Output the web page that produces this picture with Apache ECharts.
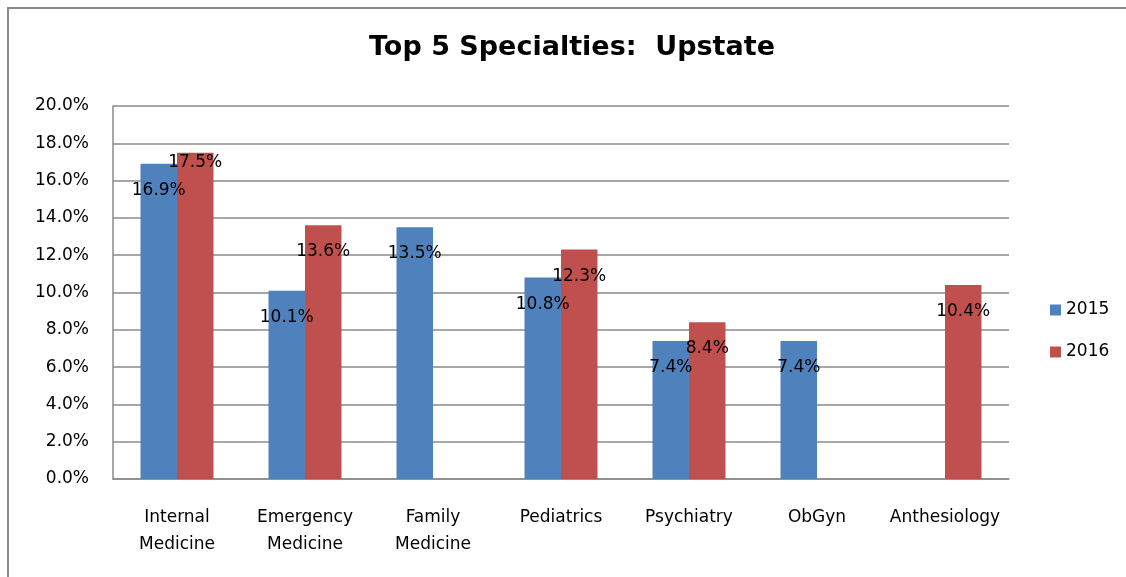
<!DOCTYPE html>
<html>
<head>
<meta charset="utf-8">
<script src="https://cdn.jsdelivr.net/npm/echarts@6/dist/echarts.min.js"></script>
<style>
  html, body { margin: 0; padding: 0; background: #fff; }
  #chart { width: 1126px; height: 577px; }
</style>
</head>
<body>
<div id="chart"></div>
<script>
const titleText = 'Top 5 Specialties:  Upstate';
const categories = ['Internal Medicine', 'Emergency Medicine', 'Family Medicine', 'Pediatrics', 'Psychiatry', 'ObGyn', 'Anthesiology'];
const seriesNames = ['2015', '2016'];
const values2015 = [16.9, 10.1, 13.5, 10.8, 7.4, 7.4, null];
const values2016 = [17.5, 13.6, null, 12.3, 8.4, null, 10.4];
const yMin = 0, yMax = 20, yStep = 2;

const FONT = 'DejaVu Sans';
const GRAY = '#8a8a8a';

function pct(v) { return v.toFixed(1) + '%'; }

const labelBase = {
  show: true,
  position: 'insideTop',
  distance: 18,
  color: '#000',
  fontFamily: FONT,
  fontSize: 17,
  formatter: p => (p.value == null ? '' : pct(p.value))
};

// per-bar label tweaks (layout only, kept out of the data arrays)
const labelTweaks2016 = { 0: { distance: 1 } };

function buildData(vals, tweaks) {
  return vals.map((v, i) => (tweaks && tweaks[i]) ? { value: v, label: tweaks[i] } : v);
}

const chart = echarts.init(document.getElementById('chart'), null, { renderer: 'canvas' });
chart.setOption({
  backgroundColor: '#fff',
  animation: false,
  title: {
    text: titleText,
    left: 567,
    top: 29,
    textAlign: 'center',
    textStyle: { fontFamily: FONT, fontWeight: 'bold', fontSize: 27, color: '#000' }
  },
  graphic: [{
    type: 'rect',
    shape: { x: 8, y: 8, width: 1300, height: 700 },
    style: { fill: 'none', stroke: GRAY, lineWidth: 2 },
    silent: true
  }],
  legend: {
    orient: 'vertical',
    left: 1045,
    top: 295,
    itemWidth: 11,
    itemHeight: 11,
    itemGap: 22,
    icon: 'rect',
    textStyle: { fontFamily: FONT, fontSize: 17, color: '#000', lineHeight: 20 },
    data: seriesNames
  },
  grid: { left: 113, right: 117, top: 106, bottom: 98 },
  xAxis: {
    type: 'category',
    data: categories,
    axisLine: { show: true, lineStyle: { color: GRAY, width: 1.5 } },
    axisTick: { show: false },
    axisLabel: {
      interval: 0,
      margin: 25,
      fontFamily: FONT,
      fontSize: 17,
      lineHeight: 27,
      color: '#000',
      formatter: v => v.replace(' ', '\n')
    }
  },
  yAxis: {
    type: 'value',
    min: yMin,
    max: yMax,
    interval: yStep,
    axisLine: { show: true, lineStyle: { color: GRAY, width: 1.5 } },
    axisTick: { show: false },
    splitLine: { show: true, lineStyle: { color: GRAY, width: 1.5 } },
    axisLabel: {
      margin: 24,
      padding: [5, 0, 0, 0],
      fontFamily: FONT,
      fontSize: 17,
      color: '#000',
      formatter: v => pct(v)
    }
  },
  series: [
    {
      name: seriesNames[0],
      type: 'bar',
      data: buildData(values2015, null),
      itemStyle: { color: '#4F81BD' },
      barGap: '0%',
      barCategoryGap: '43%',
      label: labelBase
    },
    {
      name: seriesNames[1],
      type: 'bar',
      data: buildData(values2016, labelTweaks2016),
      itemStyle: { color: '#C0504D' },
      barGap: '0%',
      barCategoryGap: '43%',
      label: labelBase
    }
  ]
});
</script>
</body>
</html>
